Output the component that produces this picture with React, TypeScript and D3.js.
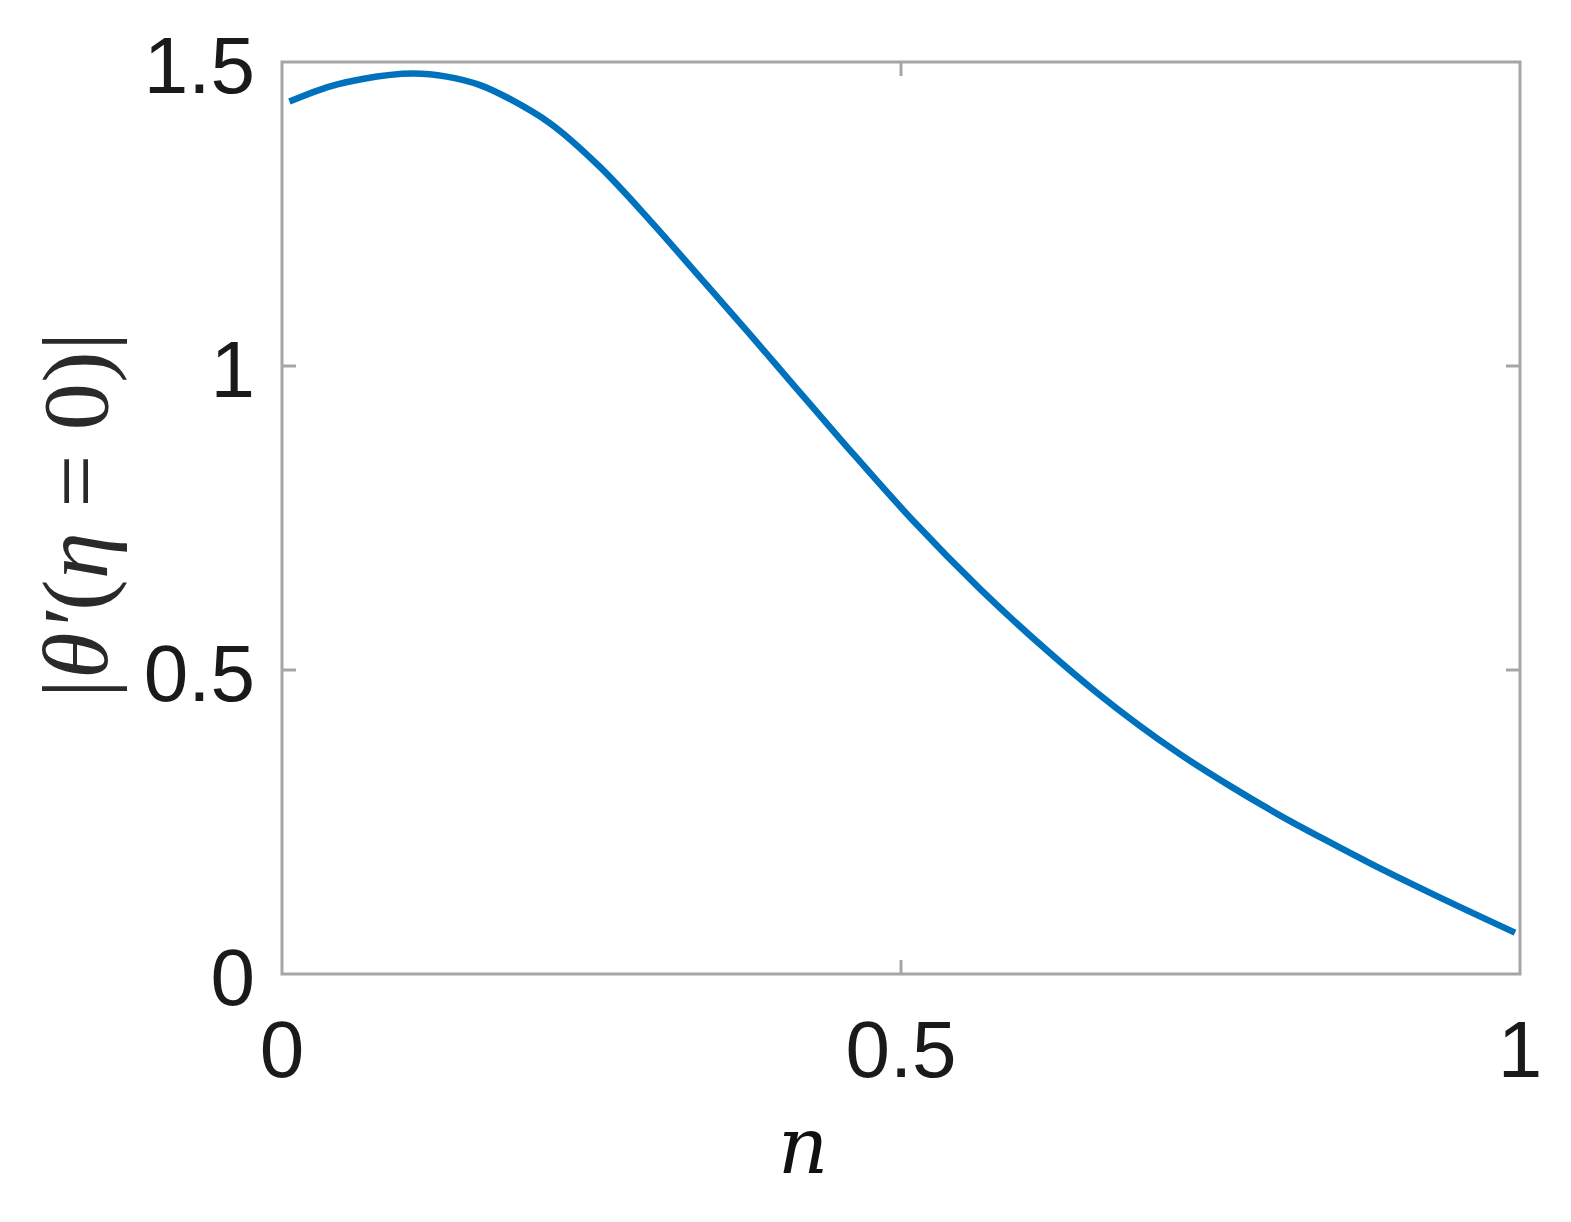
import React, { useEffect, useRef } from 'react';
import * as d3 from 'd3';

// valores
const etaValues = [0.006, 0.039, 0.065, 0.106, 0.133, 0.160, 0.187, 0.216, 0.257, 0.297, 0.338, 0.378, 0.416, 0.456, 0.510, 0.564, 0.618, 0.658, 0.725, 0.766, 0.806, 0.847, 0.879, 0.930, 0.996];
const thetaValues = [1.435, 1.460, 1.472, 1.481, 1.476, 1.462, 1.436, 1.400, 1.327, 1.240, 1.145, 1.052, 0.962, 0.868, 0.745, 0.633, 0.532, 0.463, 0.362, 0.309, 0.261, 0.216, 0.182, 0.131, 0.068];
const xTicks = [0, 0.5, 1];
const yTicks = [0, 0.5, 1, 1.5];

const App = () => {
  const svgRef = useRef<SVGSVGElement>(null);

  useEffect(() => {
    const svg = d3.select(svgRef.current);
    svg.selectAll('*').remove();

    const width = 1571;
    const height = 1222;
    const left = 282, right = 1520, top = 62, bottom = 974;

    svg.attr('width', width).attr('height', height);

    const x = d3.scaleLinear().domain([0, 1]).range([left, right]);
    const y = d3.scaleLinear().domain([0, 1.5]).range([bottom, top]);

    const data = etaValues.map((e, i) => ({ e, t: thetaValues[i] }));

    // curva
    const line = d3.line<{ e: number; t: number }>()
      .x(d => x(d.e))
      .y(d => y(d.t))
      .curve(d3.curveMonotoneX);

    svg.append('path')
      .datum(data)
      .attr('d', line)
      .attr('fill', 'none')
      .attr('stroke', '#0072BD')
      .attr('stroke-width', 6.5)
      .attr('stroke-linejoin', 'round');

    // caja
    svg.append('rect')
      .attr('x', left)
      .attr('y', top)
      .attr('width', right - left)
      .attr('height', bottom - top)
      .attr('fill', 'none')
      .attr('stroke', '#a6a6a6')
      .attr('stroke-width', 3);

    const tickLen = 14;
    // ticks interiores
    yTicks.filter(t => t > 0 && t < 1.5).forEach(t => {
      svg.append('line').attr('x1', left).attr('x2', left + tickLen)
        .attr('y1', y(t)).attr('y2', y(t)).attr('stroke', '#a6a6a6').attr('stroke-width', 3);
      svg.append('line').attr('x1', right).attr('x2', right - tickLen)
        .attr('y1', y(t)).attr('y2', y(t)).attr('stroke', '#a6a6a6').attr('stroke-width', 3);
    });
    xTicks.filter(t => t > 0 && t < 1).forEach(t => {
      svg.append('line').attr('x1', x(t)).attr('x2', x(t))
        .attr('y1', bottom).attr('y2', bottom - tickLen).attr('stroke', '#a6a6a6').attr('stroke-width', 3);
      svg.append('line').attr('x1', x(t)).attr('x2', x(t))
        .attr('y1', top).attr('y2', top + tickLen).attr('stroke', '#a6a6a6').attr('stroke-width', 3);
    });

    // etiquetas
    const fontFamily = '"Liberation Sans", Arial, sans-serif';
    svg.selectAll('.ylab')
      .data(yTicks)
      .enter().append('text')
      .attr('x', 255)
      .attr('y', d => y(d) + 31)
      .attr('text-anchor', 'end')
      .style('font-family', fontFamily)
      .style('font-size', '80px')
      .style('fill', '#1a1a1a')
      .text(d => String(d));

    svg.selectAll('.xlab')
      .data(xTicks)
      .enter().append('text')
      .attr('x', d => x(d))
      .attr('y', 1077)
      .attr('text-anchor', 'middle')
      .style('font-family', fontFamily)
      .style('font-size', '80px')
      .style('fill', '#1a1a1a')
      .text(d => String(d));

    svg.append('text')
      .attr('x', 803)
      .attr('y', 1173)
      .attr('text-anchor', 'middle')
      .style('font-family', '"DejaVu Serif", "Liberation Serif", serif')
      .style('font-style', 'italic')
      .style('font-size', '78px')
      .style('fill', '#111')
      .text('n');

    const yl = svg.append('text')
      .attr('transform', 'translate(107,515) rotate(-90)')
      .attr('text-anchor', 'middle')
      .attr('textLength', 366)
      .attr('lengthAdjust', 'spacing')
      .style('font-family', '"Liberation Serif", serif')
      .style('font-size', '94px')
      .style('fill', '#2a2a2a');
    yl.append('tspan').text('|');
    yl.append('tspan').style('font-style', 'italic').text('θ′');
    yl.append('tspan').text('(');
    yl.append('tspan').style('font-style', 'italic').text('η');
    yl.append('tspan').text(' = 0)|');
  }, []);

  return (
    <svg ref={svgRef} style={{ position: 'absolute', left: 0, top: 0, background: '#fff' }}></svg>
  );
};

export default App;
